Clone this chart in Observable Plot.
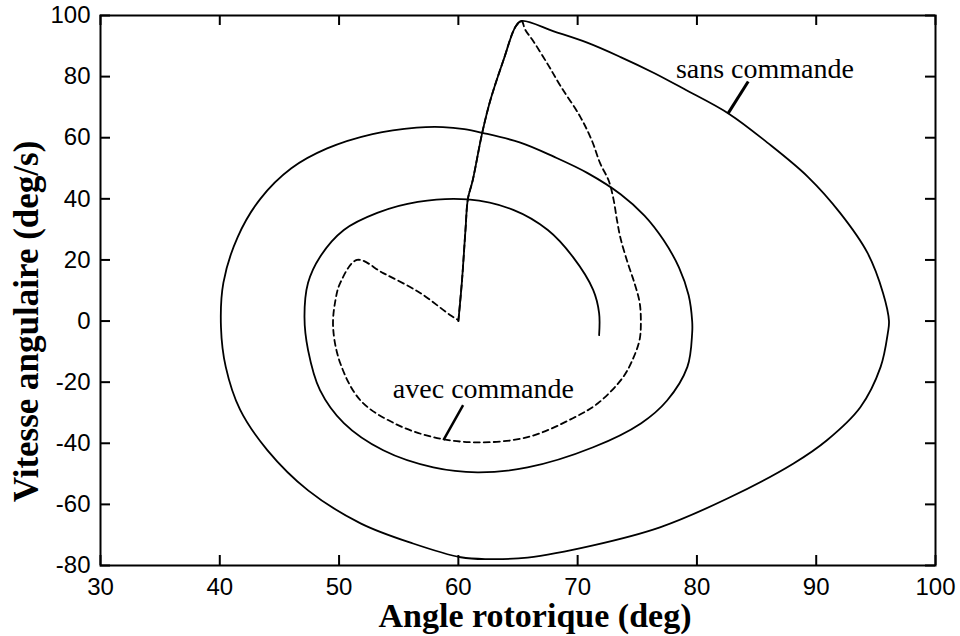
<!DOCTYPE html>
<html>
<head>
<meta charset="utf-8">
<script src="https://cdn.jsdelivr.net/npm/d3@7"></script>
<script src="https://cdn.jsdelivr.net/npm/@observablehq/plot@0.6"></script>
<style>
  html, body { margin: 0; padding: 0; background: white; }
  #chart { width: 960px; height: 636px; }
</style>
</head>
<body>
<div id="chart"></div>
<script>
// Axis ticks
const xTicks = [30, 40, 50, 60, 70, 80, 90, 100];
const yTicks = [-80, -60, -40, -20, 0, 20, 40, 60, 80, 100];

// "sans commande" trajectory (solid)
const sansX = [60.0, 60.3, 60.6, 60.8, 61.2, 62.0, 62.7, 63.8, 64.8, 65.3,
  68.0, 70.8, 73.6, 76.4, 78.9, 82.7, 85.9, 89.3, 92.0, 94.3, 95.6, 96.1,
  96.0, 95.4, 93.7, 90.9, 88.1, 82.6, 76.9, 71.3, 65.8, 62.5, 60.2, 56.2, 51.8, 47.4, 44.0, 41.7, 40.5, 40.1,
  40.3, 41.5, 43.4, 46.0, 49.0, 52.8, 56.5, 58.7, 60.5, 62.0, 65.2, 68.0, 70.8, 73.6, 75.6, 77.2, 78.5, 79.3, 79.6,
  79.6, 79.2, 77.5, 75.3, 71.3, 65.8, 61.6, 57.9, 53.7, 50.4, 48.4, 47.4, 47.1,
  47.4, 48.4, 50.4, 53.2, 56.6, 60.8, 64.6, 67.5, 69.6, 71.3, 71.8, 71.8];
const sansY = [0, 13, 30, 40, 46, 61.6, 72.5, 85.6, 96.4, 98.2,
  94.8, 91.1, 86.4, 81.2, 76.0, 67.8, 58.4, 47.2, 35.4, 22.3, 9.2, 0,
  -4, -15, -28.2, -39, -46.6, -58, -67.5, -73.4, -77.4, -77.9, -77.3, -72.8, -66.2, -55.4, -42.3, -29, -15, -2,
  12.5, 27.5, 40, 50, 56.5, 61.2, 63.3, 63.5, 62.8, 61.6, 58.4, 53.8, 48.5, 41.5, 34.5, 26.5, 17.5, 8.5, 0,
  -4, -15, -26, -33.5, -41.3, -47.9, -49.5, -47.9, -42.3, -33.4, -22.6, -9.5, 1.3,
  12.5, 21, 29.8, 35.4, 39, 39.8, 36.4, 29.8, 21, 10.2, 2.6, -4.6];

// "avec commande" trajectory (dashed); shares the initial rise with the solid curve
const avecX = [60.0, 60.3, 60.6, 60.8, 61.2, 62.0, 62.7, 63.8, 64.8, 65.3,
  65.6, 66.3, 67.5, 68.6, 70.2, 71.2, 71.9, 72.6, 73.0, 73.3, 73.6, 74.2, 74.8, 75.2, 75.3,
  75.2, 74.7, 73.8, 71.7, 69.6, 65.8, 61.6, 57.9, 54.6, 51.8, 50.1, 49.5, 49.7, 50.1, 51.5,
  53.7, 56.8, 59.3, 60.0];
const avecY = [0, 13, 30, 40, 46, 61.6, 72.5, 85.6, 96.4, 98.2,
  95.4, 91.5, 84, 76.7, 67, 59, 51.5, 46, 40, 33, 27, 19, 12, 6, 0,
  -6, -11.8, -18.4, -26.9, -31.8, -38, -39.7, -38, -33.4, -26, -13.8, -2, 6.9, 12.5, 20,
  15.7, 9.2, 2, 0.3];

// Annotations
const annoText = ["sans commande", "avec commande"];
const annoX = [85.7, 62.1];
const annoY = [82.6, -22.3];
const leaderX1 = [84.3, 60.4];
const leaderY1 = [78.4, -27.5];
const leaderX2 = [82.6, 58.75];
const leaderY2 = [67.9, -39.0];
const leaderWidth = [3, 2.5];

const xLabel = "Angle rotorique (deg)";
const yLabel = "Vitesse angulaire (deg/s)";

const sans = sansX.map((x, i) => ({x, y: sansY[i]}));
const avec = avecX.map((x, i) => ({x, y: avecY[i]}));
const annos = annoText.map((t, i) => ({t, x: annoX[i], y: annoY[i]}));
const leaders = leaderX1.map((x1, i) => ({x1, y1: leaderY1[i], x2: leaderX2[i], y2: leaderY2[i], w: leaderWidth[i]}));

const serif = "'Liberation Serif', 'Times New Roman', serif";
const W = 960, H = 636, ML = 100, MR = 25, MT = 15, MB = 71;
const TICK = 10;
const frameW = W - ML - MR, frameH = H - MT - MB;

const chart = Plot.plot({
  width: W,
  height: H,
  marginLeft: ML,
  marginRight: MR,
  marginTop: MT,
  marginBottom: MB,
  style: {background: "white", color: "black", fontFamily: "'Liberation Sans', Arial, sans-serif", fontSize: "24px"},
  x: {domain: [30, 100]},
  y: {domain: [-80, 100]},
  marks: [
    Plot.line(avec, {x: "x", y: "y", curve: "catmull-rom", stroke: "black", strokeWidth: 1.8, strokeDasharray: "6,4"}),
    Plot.line(sans, {x: "x", y: "y", curve: "catmull-rom", stroke: "black", strokeWidth: 1.8}),
    Plot.link(leaders, {x1: "x1", y1: "y1", x2: "x2", y2: "y2", stroke: "black", strokeWidth: "w"}),
    Plot.text(annos, {x: "x", y: "y", text: "t", fontFamily: serif, fontSize: 28, fill: "black", textAnchor: "middle", lineAnchor: "middle"}),
    // tick labels
    Plot.axisX(xTicks, {anchor: "bottom", tickSize: 0, tickPadding: 12, label: null, fontSize: 24, tickFormat: d => String(d)}),
    Plot.axisY(yTicks, {anchor: "left", tickSize: 0, tickPadding: 10, label: null, fontSize: 24, tickFormat: d => String(d)}),
    // inward ticks on all four sides
    Plot.tickX(xTicks, {x: d => d, insetTop: frameH - TICK, stroke: "black", strokeWidth: 2}),
    Plot.tickX(xTicks, {x: d => d, insetBottom: frameH - TICK, stroke: "black", strokeWidth: 2}),
    Plot.tickY(yTicks, {y: d => d, insetRight: frameW - TICK, stroke: "black", strokeWidth: 2}),
    Plot.tickY(yTicks, {y: d => d, insetLeft: frameW - TICK, stroke: "black", strokeWidth: 2}),
    Plot.frame({stroke: "black", strokeWidth: 2}),
    // axis titles
    Plot.text([xLabel], {frameAnchor: "bottom", textAnchor: "middle", lineAnchor: "middle", dx: 17, dy: 51, fontFamily: serif, fontWeight: "bold", fontSize: 34, fill: "black"}),
    Plot.text([yLabel], {frameAnchor: "left", textAnchor: "middle", lineAnchor: "middle", rotate: -90, dx: -74, dy: 31, fontFamily: serif, fontWeight: "bold", fontSize: 35, fill: "black"})
  ]
});
document.getElementById("chart").appendChild(chart);
</script>
</body>
</html>
